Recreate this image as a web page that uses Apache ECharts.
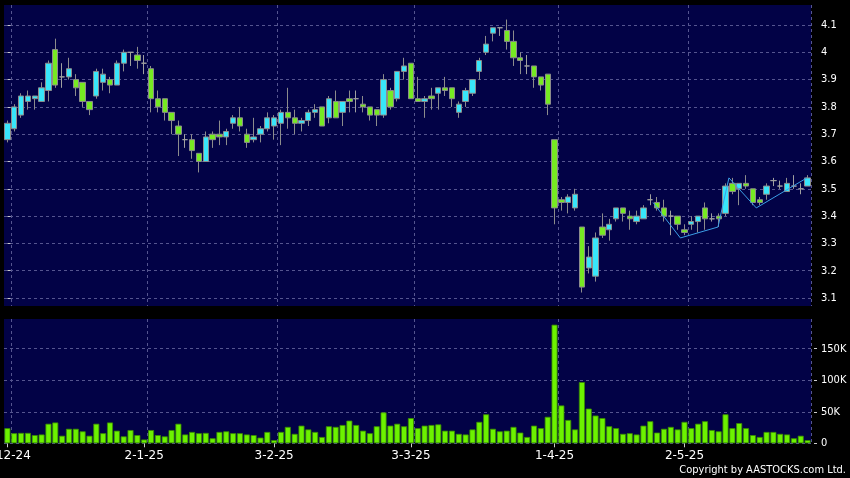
<!DOCTYPE html>
<html><head><meta charset="utf-8">
<script src="https://cdn.jsdelivr.net/npm/echarts@6/dist/echarts.min.js"></script>
<style>html,body{margin:0;padding:0;background:#000;}#c{width:850px;height:478px;}</style>
</head><body><div id="c"></div>
<script>
const dates = ['29-11-24',
'2-12-24','3-12-24','4-12-24','5-12-24','6-12-24','9-12-24','10-12-24','11-12-24','12-12-24','13-12-24','16-12-24','17-12-24','18-12-24','19-12-24','20-12-24','23-12-24','24-12-24','27-12-24','30-12-24','31-12-24',
'2-1-25','3-1-25','6-1-25','7-1-25','8-1-25','9-1-25','10-1-25','13-1-25','14-1-25','15-1-25','16-1-25','17-1-25','20-1-25','21-1-25','22-1-25','23-1-25','24-1-25','27-1-25','28-1-25',
'3-2-25','4-2-25','5-2-25','6-2-25','7-2-25','10-2-25','11-2-25','12-2-25','13-2-25','14-2-25','17-2-25','18-2-25','19-2-25','20-2-25','21-2-25','24-2-25','25-2-25','26-2-25','27-2-25','28-2-25',
'3-3-25','4-3-25','5-3-25','6-3-25','7-3-25','10-3-25','11-3-25','12-3-25','13-3-25','14-3-25','17-3-25','18-3-25','19-3-25','20-3-25','21-3-25','24-3-25','25-3-25','26-3-25','27-3-25','28-3-25','31-3-25',
'1-4-25','2-4-25','3-4-25','7-4-25','8-4-25','9-4-25','10-4-25','11-4-25','14-4-25','15-4-25','16-4-25','17-4-25','22-4-25','23-4-25','24-4-25','25-4-25','28-4-25','29-4-25','30-4-25',
'2-5-25','6-5-25','7-5-25','8-5-25','9-5-25','12-5-25','13-5-25','14-5-25','15-5-25','16-5-25','19-5-25','20-5-25','21-5-25','22-5-25','23-5-25','26-5-25','27-5-25','28-5-25'];

const opens = [3.68,3.72,3.77,3.82,3.83,3.82,3.86,4.01,3.91,3.91,
3.90,3.89,3.82,3.84,3.89,3.90,3.88,3.96,4.00,3.99,
3.96,3.94,3.83,3.83,3.78,3.73,3.68,3.68,3.63,3.60,
3.70,3.70,3.69,3.74,3.76,3.70,3.68,3.70,3.72,3.73,
3.74,3.78,3.76,3.74,3.75,3.78,3.80,3.76,3.82,3.78,
3.83,3.83,3.81,3.80,3.79,3.77,3.86,3.83,3.93,3.96,
3.83,3.82,3.84,3.85,3.87,3.87,3.78,3.82,3.85,3.93,
4.00,4.07,4.09,4.08,4.04,3.98,3.95,3.95,3.91,3.92,
3.68,3.46,3.45,3.43,3.36,3.21,3.18,3.36,3.35,3.39,
3.43,3.40,3.38,3.39,3.46,3.45,3.43,3.40,3.40,3.35,
3.37,3.38,3.43,3.39,3.40,3.41,3.52,3.50,3.52,3.50,
3.46,3.48,3.53,3.51,3.49,3.51,3.50,3.51];

const closes = [3.74,3.80,3.84,3.84,3.84,3.87,3.96,3.88,3.91,3.94,
3.87,3.82,3.79,3.93,3.92,3.88,3.96,4.00,4.00,3.97,
3.96,3.83,3.80,3.78,3.75,3.70,3.68,3.64,3.60,3.69,
3.68,3.69,3.71,3.76,3.73,3.67,3.69,3.72,3.76,3.76,
3.78,3.76,3.74,3.75,3.78,3.79,3.73,3.83,3.76,3.82,
3.82,3.83,3.80,3.77,3.77,3.90,3.80,3.93,3.95,3.83,
3.82,3.83,3.83,3.87,3.86,3.83,3.81,3.86,3.90,3.97,
4.03,4.09,4.09,4.04,3.98,3.97,3.95,3.91,3.88,3.81,
3.43,3.45,3.47,3.48,3.14,3.25,3.32,3.33,3.37,3.43,
3.41,3.39,3.40,3.43,3.46,3.43,3.40,3.40,3.37,3.34,
3.38,3.40,3.39,3.39,3.39,3.51,3.49,3.52,3.51,3.45,
3.45,3.51,3.53,3.51,3.52,3.51,3.50,3.54];

const lows = [3.67,3.71,3.76,3.79,3.79,3.82,3.82,3.87,3.87,3.90,
3.84,3.80,3.77,3.83,3.86,3.85,3.88,3.93,3.95,3.94,
3.92,3.78,3.78,3.75,3.70,3.62,3.65,3.61,3.56,3.60,
3.65,3.66,3.66,3.72,3.71,3.65,3.67,3.67,3.71,3.68,
3.66,3.72,3.70,3.71,3.73,3.76,3.73,3.74,3.76,3.73,
3.78,3.78,3.78,3.75,3.73,3.76,3.79,3.82,3.90,3.83,
3.82,3.76,3.79,3.79,3.84,3.80,3.76,3.80,3.84,3.90,
3.99,4.04,4.06,4.01,3.95,3.92,3.92,3.87,3.86,3.77,
3.37,3.42,3.41,3.42,3.12,3.19,3.16,3.32,3.31,3.38,
3.38,3.35,3.37,3.39,3.44,3.42,3.38,3.33,3.35,3.33,
3.35,3.34,3.35,3.38,3.36,3.40,3.48,3.44,3.50,3.44,
3.44,3.46,3.51,3.50,3.49,3.50,3.48,3.51];

const highs = [3.75,3.81,3.85,3.86,3.84,3.89,3.97,4.05,3.96,3.98,
3.92,3.89,3.82,3.94,3.94,3.91,3.97,4.01,4.00,4.02,
3.99,3.95,3.86,3.83,3.78,3.75,3.70,3.70,3.63,3.71,
3.71,3.75,3.72,3.77,3.80,3.72,3.76,3.73,3.78,3.77,
3.79,3.87,3.79,3.76,3.79,3.81,3.80,3.84,3.86,3.82,
3.86,3.86,3.84,3.80,3.79,3.92,3.87,3.93,3.98,3.96,
3.91,3.84,3.87,3.87,3.91,3.87,3.82,3.87,3.90,3.98,
4.06,4.09,4.09,4.12,4.08,4.00,3.99,3.95,3.91,3.92,
3.68,3.47,3.48,3.50,3.36,3.29,3.34,3.41,3.39,3.43,
3.43,3.42,3.42,3.44,3.48,3.47,3.46,3.42,3.40,3.37,
3.40,3.40,3.45,3.41,3.41,3.52,3.54,3.52,3.55,3.50,
3.47,3.52,3.54,3.53,3.54,3.55,3.52,3.55];

// volume in thousands of shares
const volumesK = [24,16,16.5,16.5,13,14,31,33,12,23,
23,19,12,31,16,33,20,11,21,13,
6,21,13,11,21,31,14,18,16,16.5,
8,18,19,16,16,14,13,9,18,5,
18,26,15,28,22,18,10,27,26,29,
36,29,20,16,27,49,28,31,27,40,
24,28,29,30,20,20,15,14,22,34,
46,23,19,20,26,17,10,28,24,42,
188,60,37,22,97,55,44,40,27,24,
15,16,14,28,35,17,23,26,22,34,
24,31,35,21,19,46,24,32,24,13,
10,18,18,15,14,8,12,5];

// trend line points: [position in trading days, price]
const trendLine = [[94.4,3.45],[98.4,3.32],[103.9,3.36],[105.5,3.54],[109.5,3.43],[116.9,3.54]];

const priceTicks = [3.1,3.2,3.3,3.4,3.5,3.6,3.7,3.8,3.9,4.0,4.1];
const volumeTicks = [0,50000,100000,150000];

const month = i => dates[i].split('-')[1];
const isMonthStart = i => i > 0 && i < dates.length && month(i) !== month(i - 1);

const candleData = dates.map((d, i) => [opens[i], closes[i], lows[i], highs[i]]);
const volData = volumesK.map(v => v * 1000);

const GRID_COL = '#55558f';
const LABEL_FONT = 'DejaVu Sans';
const chart = echarts.init(document.getElementById('c'), null, {renderer: 'canvas'});
chart.setOption({
  backgroundColor: '#000000',
  animation: false,
  grid: [
    {left: 4, right: 39, top: 5, height: 301, show: true, backgroundColor: '#020246', borderWidth: 0, containLabel: false, outerBoundsMode: 'none'},
    {left: 4, right: 39, top: 319, height: 124.3, show: true, backgroundColor: '#020246', borderWidth: 0, containLabel: false, outerBoundsMode: 'none'}
  ],
  xAxis: [
    {type: 'category', gridIndex: 0, data: dates, boundaryGap: true,
      axisLine: {show: false}, axisTick: {show: false}, axisLabel: {show: false},
      splitLine: {show: true, interval: (i) => isMonthStart(i), lineStyle: {color: GRID_COL, type: [3, 3], width: 1}}},
    {type: 'category', gridIndex: 1, data: dates, boundaryGap: true,
      axisLine: {show: false},
      axisTick: {show: true, alignWithLabel: true, interval: (i) => isMonthStart(i + 1), length: 4, lineStyle: {color: '#cccccc'}},
      axisLabel: {show: true, interval: (i) => isMonthStart(i + 1), formatter: (v, i) => dates[i + 1],
        color: '#ffffff', fontSize: 12, fontFamily: LABEL_FONT, margin: 7},
      splitLine: {show: true, interval: (i) => isMonthStart(i), lineStyle: {color: GRID_COL, type: [3, 3], width: 1}}},
    {type: 'value', gridIndex: 0, min: -0.5, max: 117.5, show: false}
  ],
  yAxis: [
    {type: 'value', gridIndex: 0, position: 'right', min: 3.0707, max: 4.1733, offset: 3,
      axisLine: {show: false},
      axisTick: {show: true, customValues: priceTicks, length: 3, lineStyle: {color: '#cccccc'}},
      axisLabel: {show: true, customValues: priceTicks, color: '#ffffff', fontSize: 11, fontFamily: 'DejaVu Sans Condensed, DejaVu Sans', margin: 7},
      splitLine: {show: true, lineStyle: {color: GRID_COL, type: [3, 3], width: 1}}},
    {type: 'value', gridIndex: 1, position: 'right', min: 0, max: 197000, offset: 3,
      axisLine: {show: false},
      axisTick: {show: true, customValues: volumeTicks, length: 3, lineStyle: {color: '#cccccc'}},
      axisLabel: {show: true, customValues: volumeTicks, color: '#ffffff', fontSize: 11, fontFamily: 'DejaVu Sans Condensed, DejaVu Sans', margin: 7,
        formatter: v => v === 0 ? '0' : (v / 1000) + 'K'},
      splitLine: {show: true, lineStyle: {color: GRID_COL, type: [3, 3], width: 1}}}
  ],
  series: [
    {type: 'candlestick', xAxisIndex: 0, yAxisIndex: 0, data: candleData, barWidth: 5.8,
      itemStyle: {color: '#38e6fa', color0: '#76ea22', borderColor: '#8c8c8c', borderColor0: '#8c8c8c', borderColorDoji: '#a0a0a0', borderWidth: 1}},
    {type: 'bar', xAxisIndex: 1, yAxisIndex: 1, data: volData, barWidth: 6,
      itemStyle: {color: '#6cf200', borderColor: '#3a8c00', borderWidth: 0.8}},
    {type: 'line', xAxisIndex: 2, yAxisIndex: 0, data: trendLine, symbol: 'none',
      lineStyle: {color: '#3b9ee6', width: 1}, z: 5}
  ],
  graphic: [
    {type: 'text', right: 4, top: 465, style: {text: 'Copyright by AASTOCKS.com Ltd.', fill: '#ffffff', font: '11px "DejaVu Sans Condensed", "DejaVu Sans"'}}
  ]
});
</script></body></html>
